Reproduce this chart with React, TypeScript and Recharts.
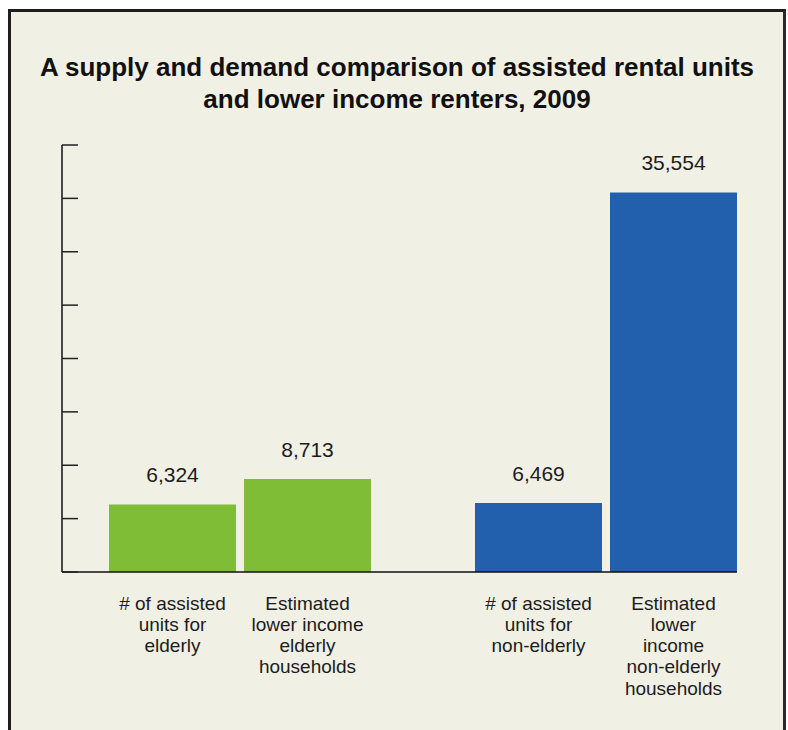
import { BarChart, Bar, XAxis, YAxis, LabelList, Cell } from 'recharts';

const groups = ['Elderly', 'Non-elderly'];
const assistedUnits = [6324, 6469];
const lowerIncomeHouseholds = [8713, 35554];
const assistedLabels = [
    ['# of assisted', 'units for', 'elderly'],
    ['# of assisted', 'units for', 'non-elderly'],
];
const householdLabels = [
    ['Estimated', 'lower income', 'elderly', 'households'],
    ['Estimated', 'lower', 'income', 'non-elderly', 'households'],
];
const yTicks = [0, 5000, 10000, 15000, 20000, 25000, 30000, 35000, 40000];
const groupColors = ['#80bd36', '#2260ad'];

const data = groups.map((g, i) => ({
    group: g,
    assisted: assistedUnits[i],
    households: lowerIncomeHouseholds[i],
    assistedLabel: assistedLabels[i].join('\n'),
    householdLabel: householdLabels[i].join('\n'),
}));

const FONT = '"Liberation Sans", Arial, Helvetica, sans-serif';

const BottomLabel = (props: any) => {
    const { x, y, width, height, value } = props;
    const lines = String(value).split('\n');
    const cx = Number(x) + Number(width) / 2;
    const base = Number(y) + Number(height);
    return (
        <text x={cx} y={base + 37.5} textAnchor="middle" fill="#1c1c1c" fontSize={19} fontFamily={FONT}>
            {lines.map((l, i) => (
                <tspan key={i} x={cx} dy={i === 0 ? 0 : 21.3}>
                    {l}
                </tspan>
            ))}
        </text>
    );
};

const App = () => {
    return (
        <div style={{ position: 'relative', width: 788, height: 730 }}>
            <style>{'body { margin: 0; overflow: hidden; }'}</style>
            <div
                style={{
                    position: 'absolute',
                    left: 8,
                    top: 9,
                    width: 778,
                    height: 721,
                    boxSizing: 'border-box',
                    borderTop: '3px solid #1e1e1e',
                    borderLeft: '3px solid #1e1e1e',
                    borderRight: '3px solid #2a2a2a',
                    background: '#f1f0e5',
                }}
            />
            <div
                style={{
                    position: 'absolute',
                    left: 8,
                    top: 51,
                    width: 778,
                    textAlign: 'center',
                    fontFamily: FONT,
                    fontWeight: 'bold',
                    fontSize: 26,
                    lineHeight: '32px',
                    color: '#111',
                }}
            >
                A supply and demand comparison of assisted rental units
                <br />
                and lower income renters, 2009
            </div>
            <div style={{ position: 'absolute', left: 0, top: 0 }}>
                <BarChart
                    width={788}
                    height={730}
                    data={data}
                    margin={{ top: 145, right: 51, bottom: 157, left: 46 }}
                    barCategoryGap={52}
                    barGap={8}
                >
                    <XAxis
                        dataKey="group"
                        height={1}
                        tick={false}
                        tickLine={false}
                        padding={{ left: -5, right: -52 }}
                        axisLine={{ stroke: '#111', strokeWidth: 1.5 }}
                    />
                    <YAxis
                        width={16}
                        domain={[0, 40000]}
                        ticks={yTicks}
                        tickSize={-16}
                        tickFormatter={() => ''}
                        tickLine={{ stroke: '#222', strokeWidth: 1.5 }}
                        axisLine={{ stroke: '#111', strokeWidth: 1.5 }}
                    />
                    <Bar dataKey="assisted" isAnimationActive={false}>
                        {data.map((_, i) => (
                            <Cell key={i} fill={groupColors[i]} />
                        ))}
                        <LabelList
                            dataKey="assisted"
                            position="top"
                            offset={22}
                            formatter={(v: any) => Number(v).toLocaleString('en-US')}
                            fill="#1c1c1c"
                            fontSize={21}
                            fontFamily={FONT}
                        />
                        <LabelList dataKey="assistedLabel" content={BottomLabel} />
                    </Bar>
                    <Bar dataKey="households" isAnimationActive={false}>
                        {data.map((_, i) => (
                            <Cell key={i} fill={groupColors[i]} />
                        ))}
                        <LabelList
                            dataKey="households"
                            position="top"
                            offset={22}
                            formatter={(v: any) => Number(v).toLocaleString('en-US')}
                            fill="#1c1c1c"
                            fontSize={21}
                            fontFamily={FONT}
                        />
                        <LabelList dataKey="householdLabel" content={BottomLabel} />
                    </Bar>
                </BarChart>
            </div>
        </div>
    );
};

export default App;
